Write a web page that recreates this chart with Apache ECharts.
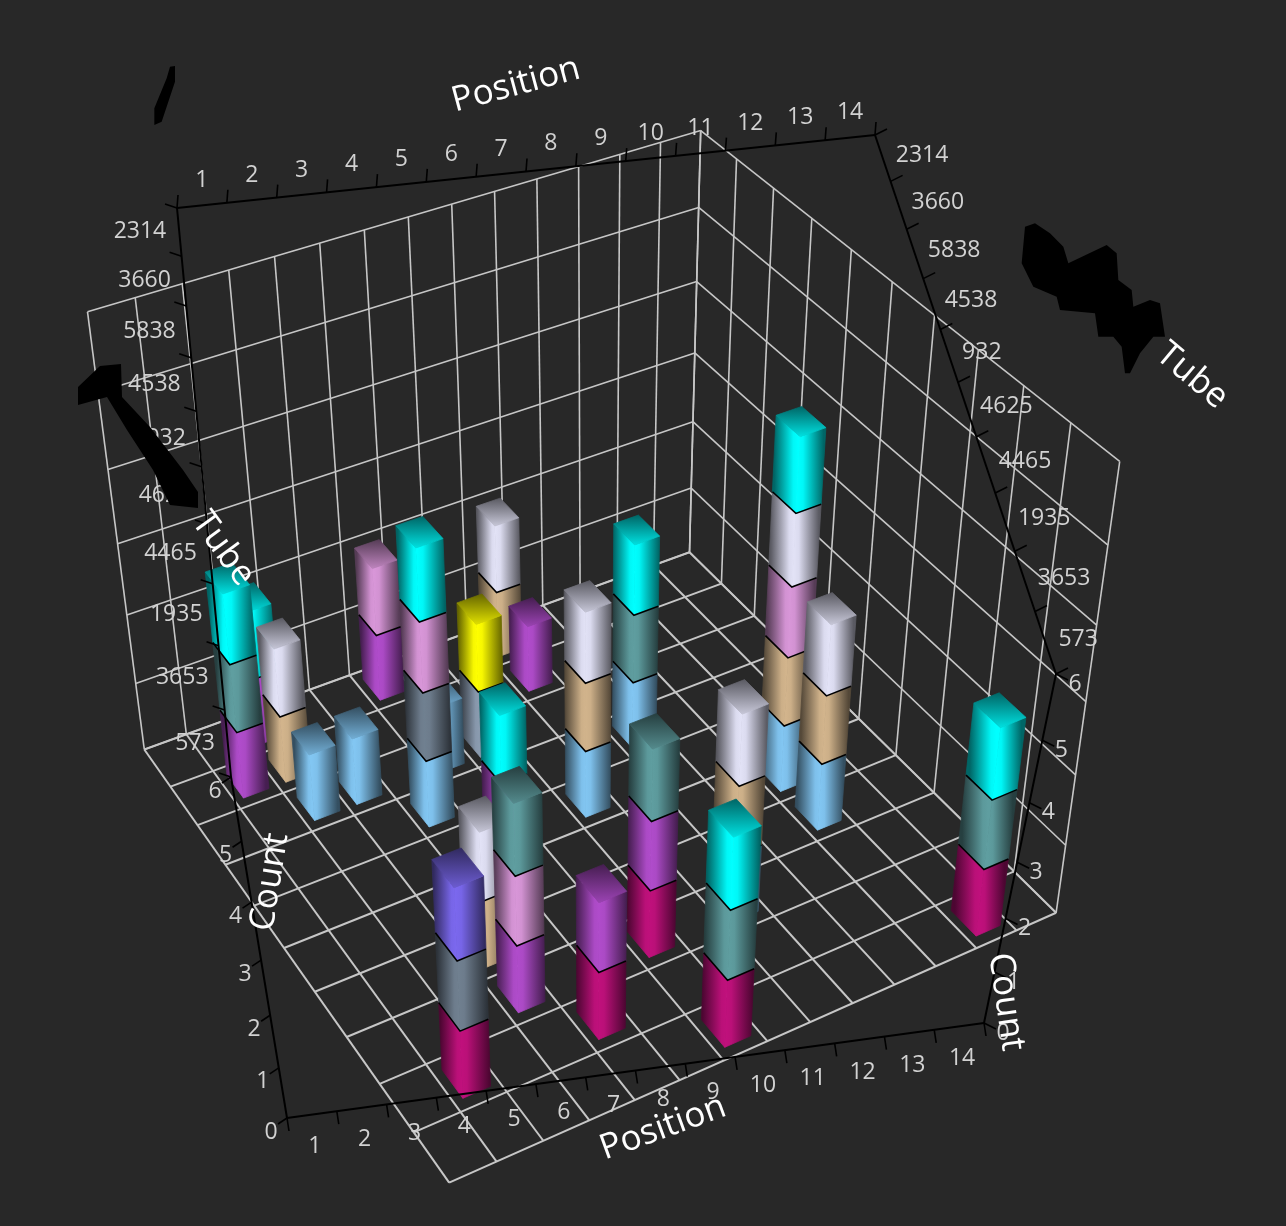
<!doctype html>
<html><head><meta charset="utf-8">
<style>html,body{margin:0;padding:0;background:#282828}#c{width:1286px;height:1226px}</style>
<script src="https://cdn.jsdelivr.net/npm/echarts@6/dist/echarts.min.js"></script>
</head><body><div id="c"></div>
<script>
// ---- data ----
const positionLabels = ['1','2','3','4','5','6','7','8','9','10','11','12','13','14'];
const tubeLabels = ['2314','3660','5838','4538','932','4625','4465','1935','3653','573'];
const countLabels = ['0','1','2','3','4','5','6'];
const barPositions = [13,7,5,2,4,7,4,8,10,12,12,5,3,4,2,3,3,6,6,7,9,9,6,9];
const barTubes = ['573','573','3653','3653','1935','1935','4465','932','4538','4625','4465','4538','5838','5838','3660','2314','3660','2314','5838','5838','3660','2314','932','1935'];
const barStacks = [
 ['violetred','cadet','aqua'],['violetred','cadet','aqua'],['violetred','orchid'],['violetred','slate','indigo'],
 ['orchid','plum','cadet'],['violetred','orchid','cadet'],['tan','lavender'],['sky','tan','lavender'],
 ['sky','cadet','aqua'],['sky','tan','plum','lavender','aqua'],['sky','tan','lavender'],['sky','slate','plum','aqua'],
 ['sky'],['sky'],['orchid','cadet','aqua'],['orchid','aqua'],['tan','lavender'],['orchid','plum'],
 ['sky'],['lightslate','yellow'],['orchid'],['tan','lavender'],['orchid','aqua'],['sky','tan','lavender']
];
const palette = {violetred:'#c0107c',orchid:'#b04ccb',plum:'#d896d8',tan:'#d2b48c',sky:'#82c6f2',slate:'#708090',
 lightslate:'#8b9cb0',cadet:'#5f9ea0',aqua:'#00ffff',lavender:'#e2e2f6',yellow:'#ffff00',indigo:'#7b68ee'};

// ---- layout ----
const nx = positionLabels.length, ny = tubeLabels.length, nz = countLabels.length-1;
const calib = [[0,0,0,144,749],[nx,0,0,690,553],[nx,ny,0,1056,912],[0,ny,0,449,1183],
               [0,0,nz,88,312],[nx,0,nz,700,130],[nx,ny,nz,1120,462]];
const half = 0.30, barZ = 0.985;
function solve(A,b){const n=A.length;const M=A.map((r,i)=>[...r,b[i]]);
 for(let i=0;i<n;i++){let p=i;for(let j=i+1;j<n;j++)if(Math.abs(M[j][i])>Math.abs(M[p][i]))p=j;
  [M[i],M[p]]=[M[p],M[i]];
  for(let j=0;j<n;j++)if(j!==i){const f=M[j][i]/M[i][i];for(let k=i;k<=n;k++)M[j][k]-=f*M[i][k];}}
 return M.map((r,i)=>r[n]/r[i]);}
// camera matrix fitted by least squares
const rowsA=[],rowsB=[];
calib.forEach(([x,y,z,u,v])=>{rowsA.push([x,y,z,1,0,0,0,0,-u*x,-u*y,-u*z]);rowsB.push(u);
 rowsA.push([0,0,0,0,x,y,z,1,-v*x,-v*y,-v*z]);rowsB.push(v);});
const ATA=Array.from({length:11},(_, i)=>Array.from({length:11},(_, j)=>rowsA.reduce((s,r)=>s+r[i]*r[j],0)));
const ATb=Array.from({length:11},(_, i)=>rowsA.reduce((s,r,k)=>s+r[i]*rowsB[k],0));
const P=solve(ATA,ATb);
function proj(x,y,z){const w=P[8]*x+P[9]*y+P[10]*z+1;return [(P[0]*x+P[1]*y+P[2]*z+P[3])/w,(P[4]*x+P[5]*y+P[6]*z+P[7])/w];}
const cam=solve([[P[0],P[1],P[2]],[P[4],P[5],P[6]],[P[8],P[9],P[10]]],[-P[3],-P[7],-1]);

function shade(hex,f){const n=parseInt(hex.slice(1),16);return 'rgb('+[n>>16&255,n>>8&255,n&255].map(c=>Math.round(c*f)).join(',')+')';}
function grad(x1,y1,x2,y2,stops){return new echarts.graphic.LinearGradient(x1,y1,x2,y2,stops,true);}

// segments sorted far to near
const segData=[];
barPositions.map((p,i)=>{
  const cx=p-0.5, cy=tubeLabels.indexOf(barTubes[i])+0.5;
  return {i,cx,cy,d:Math.hypot(cx-cam[0],cy-cam[1])};
}).sort((a,b)=>b.d-a.d).forEach(b=>{
  barStacks[b.i].forEach((c,k)=>segData.push([b.cx,b.cy,k,k+1,c,k===barStacks[b.i].length-1?1:0]));
});

function renderSeg(params,api){
  const cx=api.value(0),cy=api.value(1),z0=api.value(2)*barZ,z1=api.value(3)*barZ,col=palette[segData[params.dataIndex][4]];
  const x0=cx-half,x1=cx+half,y0=cy-half,y1=cy+half;
  const edges=[];
  if(cam[0]<x0) edges.push([[x0,y1],[x0,y0]]);
  if(cam[0]>x1) edges.push([[x1,y1],[x1,y0]]);
  if(cam[1]>y1) edges.push([[cam[0]<cx?x0:x1,y1],[cam[0]<cx?x1:x0,y1]]);
  if(cam[1]<y0) edges.push([[cam[0]<cx?x0:x1,y0],[cam[0]<cx?x1:x0,y0]]);
  const children=[];
  edges.forEach(([a,b])=>{
    const a0=proj(a[0],a[1],z0),a1=proj(a[0],a[1],z1),b0=proj(b[0],b[1],z0),b1=proj(b[0],b[1],z1);
    const my=(a0[1]+a1[1])/2;
    const fill=grad((a0[0]+a1[0])/2,my,(b0[0]+b1[0])/2,my,[
      {offset:0,color:shade(col,1)},{offset:0.2,color:shade(col,0.97)},{offset:1,color:shade(col,0.4)}]);
    children.push({type:'polygon',shape:{points:[a0,a1,b1,b0]},style:{fill,stroke:fill,lineWidth:0.8}});
  });
  if(api.value(5)){
    const pts=[proj(x0,y0,z1),proj(x1,y0,z1),proj(x1,y1,z1),proj(x0,y1,z1)];
    const ys=pts.map(p=>p[1]);
    const fill=grad(0,Math.min(...ys),0,Math.max(...ys),[
      {offset:0,color:shade(col,0.4)},{offset:1,color:shade(col,0.88)}]);
    children.push({type:'polygon',shape:{points:pts},style:{fill,stroke:fill,lineWidth:0.8}});
  }
  if(z0>0 && edges.length){
    const pts=[];
    if(edges.length===2){pts.push(proj(edges[0][1][0],edges[0][1][1],z0),proj(edges[0][0][0],edges[0][0][1],z0),proj(edges[1][1][0],edges[1][1][1],z0));}
    else pts.push(proj(edges[0][0][0],edges[0][0][1],z0),proj(edges[0][1][0],edges[0][1][1],z0));
    children.push({type:'polyline',shape:{points:pts},style:{fill:null,stroke:'#000',lineWidth:1.6}});
  }
  return {type:'group',children};
}

// grid lines
const gridData=[];
for(let i=0;i<=nx;i++){gridData.push([i,0,0,i,ny,0,2]);gridData.push([i,0,0,i,0,nz,1.6]);}
for(let j=0;j<=ny;j++){gridData.push([0,j,0,nx,j,0,2]);gridData.push([nx,j,0,nx,j,nz,1.6]);}
for(let k=0;k<=nz;k++){gridData.push([0,0,k,nx,0,k,1.6]);gridData.push([nx,0,k,nx,ny,k,1.6]);}
function renderGrid(params,api){
  const a=proj(api.value(0),api.value(1),api.value(2)),b=proj(api.value(3),api.value(4),api.value(5));
  return {type:'line',shape:{x1:a[0],y1:a[1],x2:b[0],y2:b[1]},style:{stroke:'#c6c6c6',lineWidth:api.value(6)}};
}

// axes: start, end, perspective ratio, tick vector, label list, label offset
const labelFont='23px "Open Sans"', titleFont='35px "Open Sans"';
const axes=[
 {a:[177,208],b:[875,135],k:1,tick:[1,-13],labels:positionLabels,cell:true,off:[0,-25],align:'center'},
 {a:[287,1118],b:[984,1023],k:1,tick:[2,13],labels:positionLabels,cell:true,off:[3,32],align:'center'},
 {a:[177,208],b:[231,777],k:1.2,tick:[-12,-4],labels:tubeLabels,cell:true,off:[-13,0],align:'right'},
 {a:[875,135],b:[1056,674],k:1.18,tick:[12,-6],labels:tubeLabels,cell:true,off:[13,-3],align:'left'},
 {a:[287,1118],b:[231,777],k:1.16,tick:[-9,6],labels:countLabels,cell:false,off:[-16,14],align:'center'},
 {a:[984,1023],b:[1056,674],k:1.17,tick:[12,6],labels:countLabels,cell:false,off:[19,10],align:'center'}
];
const titles=[
 ['Position',516,85,15],['Position',663,1128,20],['Tube',1192,376,-40],['Tube',223,549,-54],
 ['Count',270,882,81],['Count',1006,1002,-82]
];
const scribbles=[
 [[345,48],[345,95],[305,215],[283,225],[283,175],[320,85],[330,50]].map(p=>[60+p[0]/3,50+p[1]/3]),
 [[78,405],[78,387],[100,366],[121,364],[122,397],[150,427],[183,470],[198,492],[198,508],[170,505],[153,470],[140,450],[127,430],[107,397]],
 [[525,350],[555,340],[600,370],[640,410],[655,460],[770,405],[800,430],[805,510],[845,540],[850,590],[900,570],[930,580],[945,680],[910,680],[870,730],[840,790],[825,790],[815,710],[790,680],[745,680],[735,610],[630,600],[620,560],[550,530],[515,460]].map(p=>[850+p[0]/3,110+p[1]/3])
];
function along(ax,t){const s=t/(t+(1-t)*ax.k);return [ax.a[0]+(ax.b[0]-ax.a[0])*s,ax.a[1]+(ax.b[1]-ax.a[1])*s];}
const overlay=[];
axes.forEach(ax=>{
  overlay.push({type:'line',z:5,shape:{x1:ax.a[0],y1:ax.a[1],x2:ax.b[0],y2:ax.b[1]},style:{stroke:'#000',lineWidth:2}});
  const n=ax.cell?ax.labels.length:ax.labels.length-1;
  for(let i=0;i<=n;i++){const p=along(ax,i/n);
    overlay.push({type:'line',z:5,shape:{x1:p[0],y1:p[1],x2:p[0]+ax.tick[0],y2:p[1]+ax.tick[1]},style:{stroke:'#000',lineWidth:1.6}});}
  ax.labels.forEach((l,i)=>{const p=along(ax,ax.cell?(i+0.5)/n:i/n);
    overlay.push({type:'text',z:6,x:p[0]+ax.off[0],y:p[1]+ax.off[1],style:{text:l,fill:'#d2d2d2',font:labelFont,align:ax.align,verticalAlign:'middle'}});});
});
titles.forEach(([t,x,y,r])=>overlay.push({type:'text',z:7,x,y,rotation:r*Math.PI/180,originX:0,originY:0,style:{text:t,fill:'#fff',font:titleFont,align:'center',verticalAlign:'middle'}}));
scribbles.forEach(pts=>overlay.push({type:'polygon',z:8,shape:{points:pts},style:{fill:'#000'}}));

const chart=echarts.init(document.getElementById('c'));
chart.setOption({
  backgroundColor:'#282828',animation:false,
  graphic:{elements:overlay},
  series:[
   {type:'custom',name:'Grid',coordinateSystem:'none',silent:true,z:1,data:gridData,renderItem:renderGrid},
   {type:'custom',name:'Count',coordinateSystem:'none',silent:true,z:2,data:segData.map(s=>[s[0],s[1],s[2],s[3],0,s[5]]),renderItem:renderSeg}
  ]
});
</script></body></html>
